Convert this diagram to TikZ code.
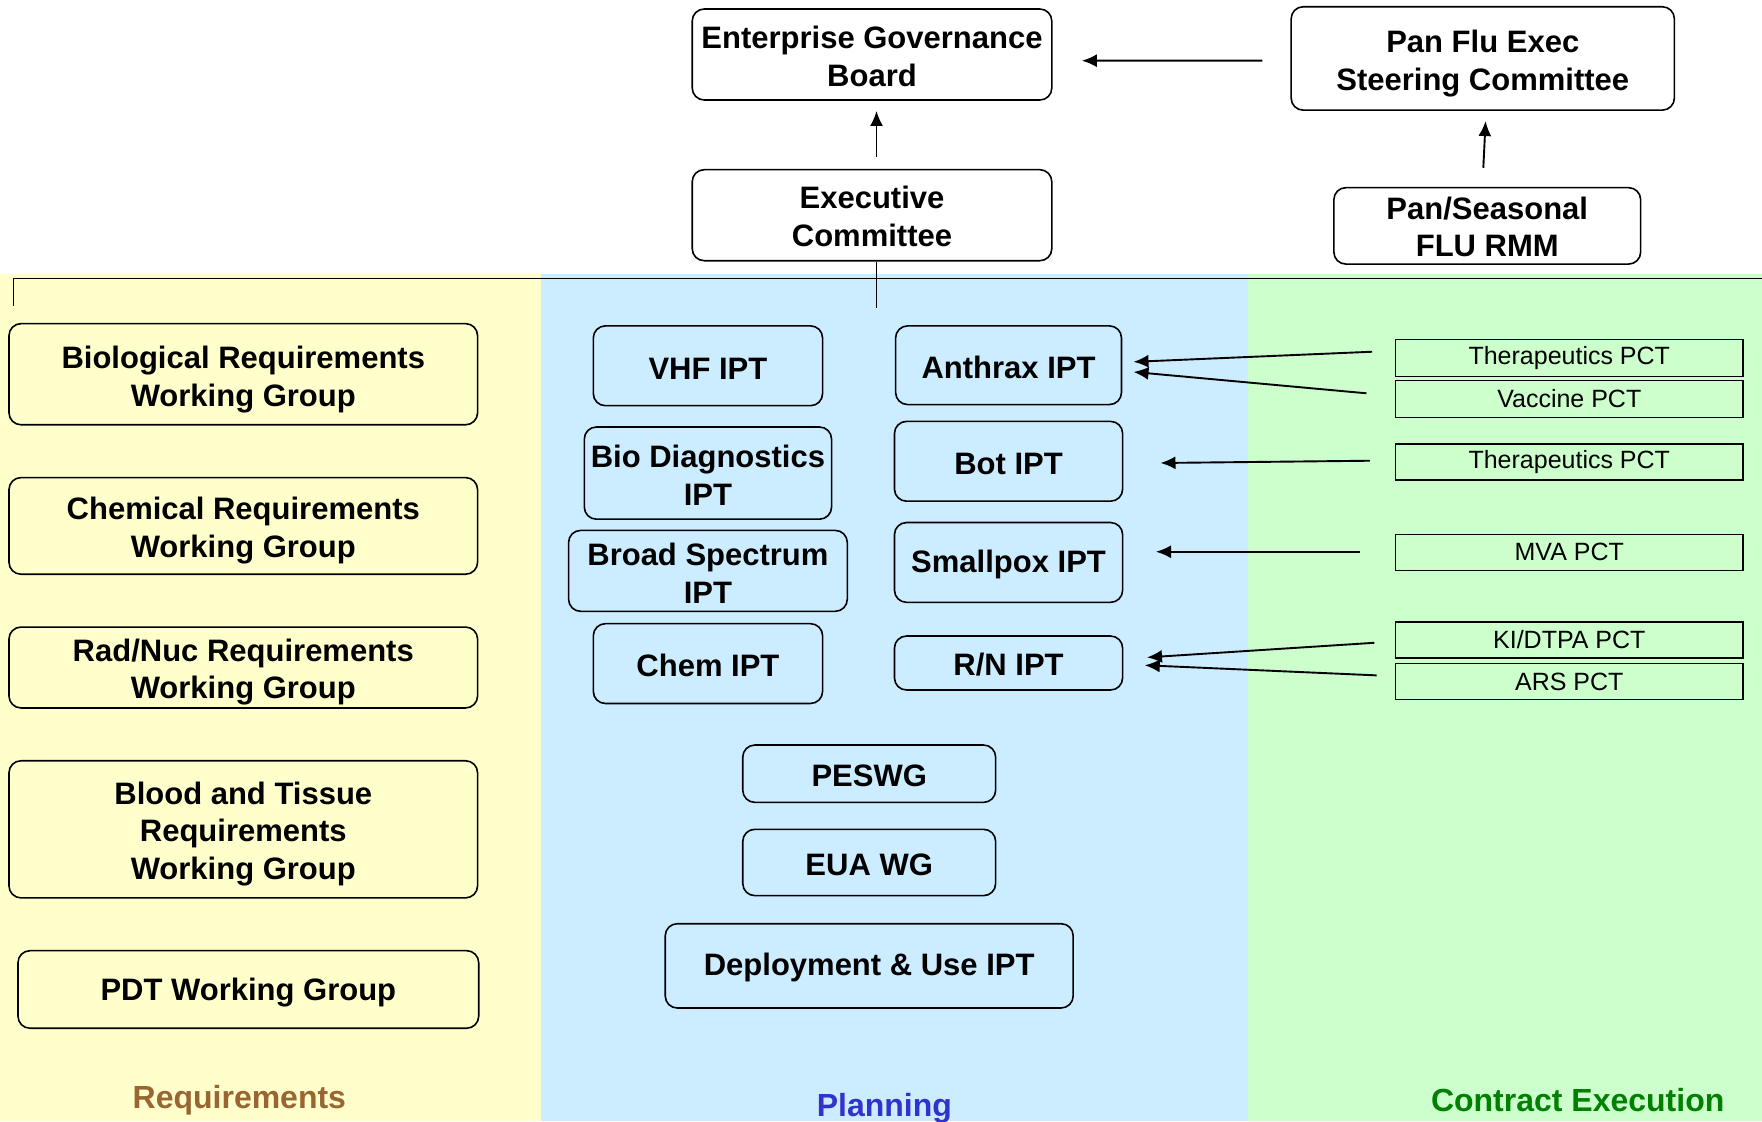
\documentclass[tikz,border=0pt]{standalone}
\usepackage{fontspec}
\setmainfont{Liberation Sans}
\usetikzlibrary{arrows.meta,calc}
\definecolor{reqbg}{RGB}{255,255,204}
\definecolor{planbg}{RGB}{204,236,255}
\definecolor{conbg}{RGB}{204,255,204}
\definecolor{reqtxt}{RGB}{153,102,51}
\definecolor{plantxt}{RGB}{51,51,204}
\definecolor{contxt}{RGB}{0,128,0}
\def\U{1.1237}
\begin{document}
\begin{tikzpicture}[x=1.1237pt,y=-1.1237pt,
  lift/.style={execute at begin node={\rule{0pt}{#1}}},
  rbox/.style={draw, line width=1.6pt, rounded corners=12pt, align=center, inner sep=0pt,
    font=\fontsize{31}{37.5}\selectfont\bfseries, lift=26.5pt},
  pct/.style={draw, line width=1.4pt, inner sep=0pt, minimum width=\U*309pt,
    font=\fontsize{25}{30}\selectfont},
  arr/.style={line width=1.9pt, -{Latex[length=15pt,width=13pt]}},
  thin/.style={line width=1.3pt},
  lane/.style={font=\fontsize{32}{38}\selectfont\bfseries}
]
\useasboundingbox (0,0) rectangle (1568,998);
% lanes
\fill[reqbg] (0,244) rectangle (481,998);
\fill[planbg] (481,244) rectangle (1111,998);
\fill[conbg] (1111,244) rectangle (1568,998);

% top boxes
\node[rbox, lift=64.2pt, minimum width=\U*320pt, minimum height=\U*81pt] (egb) at (776,48.5) {Enterprise Governance\\Board};
\node[rbox, lift=70pt, minimum width=\U*341pt, minimum height=\U*92pt] (pan) at (1319.5,52) {Pan Flu Exec\\Steering Committee};
\node[rbox, lift=62pt, minimum width=\U*320pt, minimum height=\U*81pt] (exec) at (776,191.5) {Executive\\Committee};
\node[rbox, lift=62.5pt, minimum width=\U*273pt, minimum height=\U*68pt] (rmm) at (1323.5,201) {Pan/Seasonal\\FLU RMM};

% requirements
\node[rbox, lift=71pt, minimum width=\U*417pt, minimum height=\U*90pt] (bio) at (216.5,333) {Biological Requirements\\Working Group};
\node[rbox, lift=69pt, minimum width=\U*417pt, minimum height=\U*86pt] (chem) at (216.5,468) {Chemical Requirements\\Working Group};
\node[rbox, lift=69pt, minimum width=\U*417pt, minimum height=\U*72pt] (rad) at (216.5,594) {Rad/Nuc Requirements\\Working Group};
\node[rbox, lift=106.5pt, minimum width=\U*417pt, minimum height=\U*122pt] (blood) at (216.5,738) {Blood and Tissue\\Requirements\\Working Group};
\node[rbox, lift=28pt, minimum width=\U*410pt, minimum height=\U*69pt] (pdt) at (221,880.5) {PDT Working Group};

% planning
\node[rbox, minimum width=\U*204pt, minimum height=\U*71pt] (vhf) at (630,325.5) {VHF IPT};
\node[rbox, lift=64.5pt, minimum width=\U*220pt, minimum height=\U*82pt] (biod) at (630,421) {Bio Diagnostics\\IPT};
\node[rbox, lift=64.5pt, minimum width=\U*248pt, minimum height=\U*72pt] (broad) at (630,508) {Broad Spectrum\\IPT};
\node[rbox, minimum width=\U*204pt, minimum height=\U*71pt] (chemipt) at (630,590.5) {Chem IPT};
\node[rbox, minimum width=\U*201pt, minimum height=\U*70pt] (anth) at (897.5,325) {Anthrax IPT};
\node[rbox, minimum width=\U*203pt, minimum height=\U*71pt] (bot) at (897.5,410.5) {Bot IPT};
\node[rbox, minimum width=\U*203pt, minimum height=\U*71pt] (small) at (897.5,500.5) {Smallpox IPT};
\node[rbox, minimum width=\U*203pt, minimum height=\U*48pt] (rn) at (897.5,590) {R/N IPT};
\node[rbox, minimum width=\U*225pt, minimum height=\U*51pt] (pes) at (773.5,688.5) {PESWG};
\node[rbox, minimum width=\U*225pt, minimum height=\U*59pt] (eua) at (773.5,767.5) {EUA WG};
\node[rbox, minimum width=\U*363pt, minimum height=\U*75pt] (dep) at (773.5,859.5) {Deployment \& Use IPT};

% contract execution
\node[pct, minimum height=\U*33pt] (ther1) at (1396.5,318.5) {Therapeutics PCT};
\node[pct, minimum height=\U*33pt] (vac) at (1396.5,355) {Vaccine PCT};
\node[pct, minimum height=\U*32pt] (ther2) at (1396.5,411) {Therapeutics PCT};
\node[pct, minimum height=\U*32pt] (mva) at (1396.5,491.5) {MVA PCT};
\node[pct, minimum height=\U*32pt] (ki) at (1396.5,569.5) {KI/DTPA PCT};
\node[pct, minimum height=\U*32pt] (ars) at (1396.5,606.5) {ARS PCT};

% lane labels
\node[lane, text=reqtxt] (lreq) at (213,979) {Requirements};
\node[lane, text=plantxt] (lplan) at (787,986.5) {Planning};
\node[lane, text=contxt] (lcon) at (1404,979) {Contract Execution};

% top connectors
\draw[arr] ($(pan.west)+(-25,2)$) -- ($(egb.east)+(26,5.5)$);
\draw[arr] ($(exec.north)+(4,-11)$) -- ($(egb.south)+(4,9)$);
\draw[arr] ($(rmm.north)+(-3.5,-17)$) -- ($(pan.south)+(2.5,9)$);
\coordinate (busT) at (780,274);
\coordinate (busL) at (12,248);
\coordinate (busR) at (1568,248);
\coordinate (tickB) at (12,272);
\draw[thin] ($(exec.south)+(4,0)$) -- (busT);
\draw[thin] (tickB) -- (busL) -- (busR);

% PCT arrows
\coordinate (s1) at (1221,313);
\coordinate (s2) at (1216,350);
\coordinate (s3) at (1219,410);
\coordinate (s4) at (1210,491);
\coordinate (s5) at (1223,572);
\coordinate (s6) at (1225,601);
\draw[arr] (s1) -- ($(anth.east)+(10,-3)$);
\draw[arr] (s2) -- ($(anth.east)+(10,6)$);
\draw[arr] (s3) -- ($(bot.east)+(33,1.5)$);
\draw[arr] (s4) -- ($(small.east)+(29,-9.5)$);
\draw[arr] (s5) -- ($(rn.east)+(21,-5)$);
\draw[arr] (s6) -- ($(rn.east)+(19,2)$);
\end{tikzpicture}
\end{document}
